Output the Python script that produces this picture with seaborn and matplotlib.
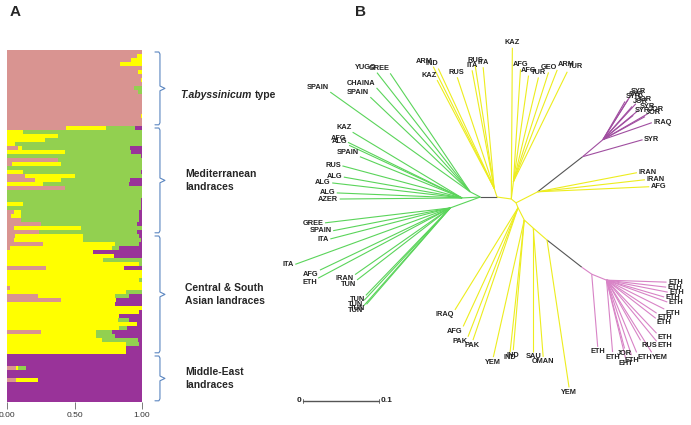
import numpy as np
import pandas as pd
import matplotlib
matplotlib.use("Agg")
import matplotlib.pyplot as plt
import seaborn as sns

# ---- panel A: membership of each accession (top to bottom), order in bar: pink, yellow, green, purple
pink = [1, .96, .92, .84, 1, .97, 1, .99, 1, .94, .97, 1, 1, 1, 1, 1, .99, 1, 1,
        .44, 0, 0, 0, 0, .08, 0, 0, .38, .04, 0, 0, .13, .21, 0, .43, 0, 0, 0, 0, 0, .05, .03, .10, .25, .05, .24,
        .06, .05, .27, .02, 0, 0, 0, 0, .29, 0, 0, 0, 0, .02, 0, .23, .40, 0, 0, 0, 0, 0, 0, 0, .25, 0, 0, 0, 0, 0,
        0, 0, 0, .07, 0, 0, .07, 0, 0, 0, 0, 0]
yellow = [0, .04, .08, .16, 0, .03, 0, .01, 0, 0, 0, 0, 0, 0, 0, 0, .01, 0, 0,
          .29, .12, .38, .28, .06, .03, .43, 0, 0, .36, 0, .12, .37, .19, .27, 0, 0, 0, 0, .12, 0, .05, .07, 0, 0, .50, 0,
          .50, .51, .53, .76, .64, .79, .71, .98, .58, 1, 1, .98, 1, .98, .88, .57, .41, .80, 1, .98, .83, .82, .96, .83, .41, .66, .70, .88, .88, .88,
          0, 0, 0, .01, 0, 0, .16, 0, 0, 0, 0, 0]
green = [0, 0, 0, 0, 0, 0, 0, 0, 0, .06, .03, 0, 0, 0, 0, 0, 0, 0, 0,
         .22, .88, .62, .72, .94, .80, .49, .99, .62, .60, 1, .87, .50, .51, .63, .57, 1, 1, .99, .87, .99, .88, .88, .88, .71, .45, .72,
         .42, .43, .18, .05, 0, 0, .29, .02, 0, 0, 0, .02, 0, 0, .12, .10, 0, 0, 0, 0, 0, .08, 0, .06, .12, .14, .27, .10, 0, 0,
         0, 0, 0, .06, 0, 0, 0, 0, 0, 0, 0, 0]
purple = [0, 0, 0, 0, 0, 0, 0, 0, 0, 0, 0, 0, 0, 0, 0, 0, 0, 0, 0,
          .05, 0, 0, 0, 0, .09, .08, .01, 0, 0, 0, .01, 0, .09, .10, 0, 0, 0, .01, .01, .01, .02, .02, .02, .04, 0, .04,
          .02, .01, .02, .17, .36, .21, 0, 0, .13, 0, 0, 0, 0, 0, 0, .10, .19, .20, 0, .02, .17, .10, .04, .11, .22, .20, .03, .02, .12, .12,
          1, 1, 1, .86, 1, 1, .77, 1, 1, 1, 1, 1]
group_names = ["T.abyssinicum", "Mediterranean\nlandraces", "Central & South\nAsian landraces", "Middle-East\nlandraces"]
group_sizes = [19, 27, 30, 12]

# ---- panel B: unrooted tree, each edge = (parent, angle in degrees, branch length)
node_names = ["Ng", "Gu", "Gm", "Gl", "Yl", "Yk", "Yt", "Y1", "Yi", "Pn", "Pa", "Yb", "Yc", "Yd", "Ye", "Pk", "Pb", "Pc"]
node_parent = ["root", "Ng", "Ng", "Ng", "root", "root", "Yk", "Yk", "Y1", "Yi", "Pn", "Y1", "Yb", "Yc", "Yd", "Ye", "Pk", "Pb"]
node_angle = [180, 153, 183, 200, 108, -8, 83, -39, 27, 38, 40, -68, -63, -42, -41, -38, -35, -22]
node_length = [.022, .015, .024, .042, .012, .019, .023, .008, .032, .075, .035, .007, .018, .016, .024, .058, .016, .021]
node_clade = ["none", "green", "green", "green", "yellow", "yellow", "yellow", "yellow", "yellow", "none",
              "purple", "yellow", "yellow", "yellow", "yellow", "none", "pink", "pink"]

tip_labels = ["YUGO", "GREE", "CHAINA", "SPAIN", "SPAIN",
              "KAZ", "AFG", "ALG", "SPAIN", "RUS", "ALG", "ALG", "ALG", "AZER",
              "GREE", "SPAIN", "ITA", "ITA", "AFG", "ETH", "IRAN", "TUN", "TUN", "TUN", "TUN", "TUN",
              "ARM", "IND", "KAZ", "RUS", "RUS", "ITA", "ITA",
              "KAZ",
              "AFG", "AFG", "TUR", "GEO", "ARM", "TUR",
              "IRAN", "IRAN", "AFG",
              "SYR",
              "SYR", "SYR", "SYR", "JOR", "JOR", "SYR", "SYR", "JOR", "JOR", "IRAQ",
              "IRAQ", "AFG", "PAK", "PAK",
              "YEM", "IND", "IND",
              "SAU", "OMAN",
              "YEM",
              "ETH",
              "ETH", "ETH", "ETH", "ETH", "ETH", "ETH", "ETH", "ETH", "ETH", "ETH", "RUS", "YEM", "ETH", "JOR", "ETH", "EHT", "ETH"]
tip_parent = (["Gu"] * 5 + ["Gm"] * 9 + ["Gl"] * 12 + ["Yl"] * 7 + ["Yk"] + ["Yt"] * 6 + ["Yi"] * 3 + ["Pn"]
              + ["Pa"] * 10 + ["Yb"] * 4 + ["Yc"] * 3 + ["Yd"] * 2 + ["Ye"] + ["Pb"] + ["Pc"] * 17)
tip_angle = [128, 124, 132, 144.5, 136.5,
             149, 154, 155, 158, 165, 170, 173.4, 177.7, 180.5,
             186.8, 191, 194.5, 200, 205.5, 208, 215, 217.7, 226, 227, 228.5, 229,
             116.6, 115, 117.8, 108.4, 98.8, 100.6, 95.2,
             89.6,
             86.4, 81.9, 76.5, 72.2, 68.6, 63.9,
             10.9, 6.4, 2.6,
             15.8,
             57.9, 58, 60, 47.5, 48.7, 39.6, 38.7, 30, 28.7, 19.1,
             238.3, 245.2, 248.8, 251.2,
             257.3, 263.9, 265.2,
             270, 274.4,
             278.5,
             274.7,
             -1.9, -6.7, -11.1, -16.3, -19.8, -26.6, -33.4, -37.8, -46.7, -50.7, -60.5, -58, -67.4, -75.2, -71.6, -76.3, -85.2]
tip_length = [.199, .188, .184, .226, .181,
              .168, .167, .164, .145, .163, .158, .172, .165, .161,
              .166, .157, .163, .217, .190, .197, .153, .155, .160, .166, .172, .168,
              .179, .174, .161, .154, .164, .158, .160,
              .199,
              .148, .141, .141, .151, .158, .161,
              .133, .142, .147,
              .082,
              .067, .062, .058, .064, .058, .060, .051, .068, .063, .068,
              .158, .172, .182, .184,
              .185, .175, .172,
              .163, .170,
              .196,
              .096,
              .079, .079, .082, .079, .085, .085, .079, .082, .096, .104, .091, .112, .103, .093, .104, .106, .095]
tip_clade_override = {"Pn": "purple"}

bar_colours = {"pink": "#d99491", "yellow": "#ffff00", "green": "#92d050", "purple": "#993399"}
line_colours = {"green": "#5ad45a", "yellow": "#eded1e", "purple": "#a04ea0", "pink": "#d883c6", "none": "#555555"}

sns.set_style("white")
plt.rcParams["font.family"] = ["Liberation Sans", "DejaVu Sans"]

fig = plt.figure(figsize=(6.91, 4.25), dpi=100)

# ---------------- panel A
axA = fig.add_axes([7 / 691, 23 / 425, 135 / 691, 352 / 425])
df = pd.DataFrame({"pink": pink, "yellow": yellow, "green": green, "purple": purple})
df = df.div(df.sum(axis=1), axis=0)
cum = df.cumsum(axis=1)
cum["row"] = np.arange(len(df))
for comp in ["purple", "green", "yellow", "pink"]:
    sns.barplot(data=cum, x=comp, y="row", orient="h", color=bar_colours[comp], width=1,
                saturation=1, errorbar=None, linewidth=0, ax=axA)
n_rows = len(df)
axA.set_ylim(n_rows - 0.5, -0.5)
axA.set_xlim(0, 1)
axA.set_yticks([])
axA.set_xlabel("")
axA.set_ylabel("")
axA.set_xticks([0, 0.5, 1])
axA.set_xticklabels(["0.00", "0.50", "1.00"], fontsize=6, color="#333333")
axA.tick_params(axis="x", bottom=True, length=5, width=0.6, color="#666666", pad=2)
for s in axA.spines.values():
    s.set_visible(False)

# brackets + group labels
brace = "#5b86c0"
start = 0
for i, (name, n) in enumerate(zip(group_names, group_sizes)):
    top = start - 0.5 + 0.5
    bot = start + n - 0.5 - 0.3
    mid = (top + bot) / 2
    xs = [1.096, 1.125, 1.133, 1.133, 1.17, 1.133, 1.133, 1.125, 1.096]
    ys = [top, top, top + 0.5, mid - 0.6, mid, mid + 0.6, bot - 0.5, bot, bot]
    axA.plot(xs, ys, color=brace, lw=0.8, clip_on=False)
    if i == 0:
        t = axA.text(1.281, mid + 1.7, name, fontsize=7.5, fontweight="bold", style="italic",
                     va="center", ha="left", clip_on=False)
        axA.annotate("type", xy=(1, 0.5), xycoords=t, xytext=(2.5, 0), textcoords="offset points",
                     fontsize=7.5, fontweight="bold", va="center", ha="left")
    else:
        axA.text(1.319, mid, name, fontsize=7.5, fontweight="bold", va="center", ha="left",
                 linespacing=1.35, clip_on=False)
    start += n

# ---------------- panel B
px = 760.0  # pixels per tree unit
axB = fig.add_axes([280 / 691, 0, 411 / 691, 405 / 425])
axB.set_xlim((280 - 497) / px, (691 - 497) / px)
axB.set_ylim((197 - 425) / px, (197 - 20) / px)
axB.axis("off")

pos = {"root": (0.0, 0.0)}
for name, par, ang, ln, cl in zip(node_names, node_parent, node_angle, node_length, node_clade):
    x0, y0 = pos[par]
    a = np.deg2rad(ang)
    pos[name] = (x0 + ln * np.cos(a), y0 + ln * np.sin(a))
    axB.plot([x0, pos[name][0]], [y0, pos[name][1]], color=line_colours[cl], lw=0.8,
             solid_capstyle="butt")

clade_of = dict(zip(node_names, node_clade))
clade_of.update(tip_clade_override)
for lab, par, ang, ln in zip(tip_labels, tip_parent, tip_angle, tip_length):
    x0, y0 = pos[par]
    a = np.deg2rad(ang)
    x1, y1 = x0 + ln * np.cos(a), y0 + ln * np.sin(a)
    axB.plot([x0, x1], [y0, y1], color=line_colours[clade_of[par]], lw=0.8, solid_capstyle="butt")
    c, s = np.cos(a), np.sin(a)
    ha = "left" if c > 0.35 else ("right" if c < -0.35 else "center")
    va = "bottom" if s > 0.35 else ("top" if s < -0.35 else "center")
    axB.text(x1 + 0.002 * c, y1 + 0.002 * s, lab, fontsize=5.3, fontweight="bold",
             color="#222222", ha=ha, va=va)

# scale bar
sx0, sy = (303 - 497) / px, (197 - 401) / px
axB.plot([sx0, sx0 + 0.1], [sy, sy], color="#555555", lw=1.0)
for xx in (sx0, sx0 + 0.1):
    axB.plot([xx, xx], [sy - 0.003, sy + 0.003], color="#555555", lw=0.6)
axB.text(sx0 - 0.002, sy, "0", fontsize=6, fontweight="bold", ha="right", va="center", color="#222222")
axB.text(sx0 + 0.102, sy, "0.1", fontsize=6, fontweight="bold", ha="left", va="center", color="#222222")

fig.text(10 / 691, 1 - 12 / 425, "A", fontsize=11, fontweight="bold", ha="left", va="center")
fig.text(355 / 691, 1 - 12 / 425, "B", fontsize=11, fontweight="bold", ha="left", va="center")

fig.savefig("out.png", dpi=100)
